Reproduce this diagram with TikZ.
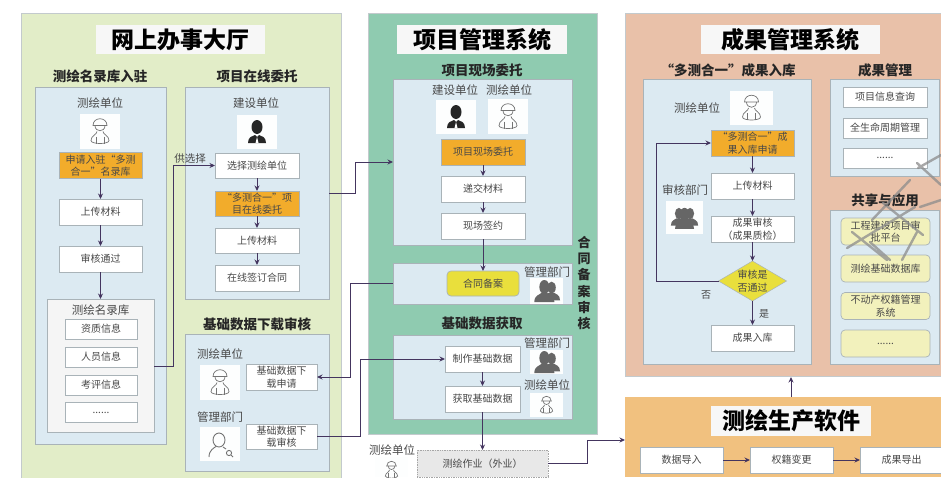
\documentclass[tikz,border=0pt]{standalone}
\usepackage{fontspec}
\setmainfont{Noto Sans CJK SC}
\usetikzlibrary{positioning}
\usetikzlibrary{calc}
\usetikzlibrary{arrows.meta}
\definecolor{hallgreen}{HTML}{E2EDC8}
\definecolor{pmgreen}{HTML}{8FCBB0}
\definecolor{resultpink}{HTML}{E9C1A9}
\definecolor{softorange}{HTML}{F1C17F}
\definecolor{paleblue}{HTML}{DCEAF2}
\definecolor{taskorange}{HTML}{F2AC2B}
\definecolor{edgegray}{HTML}{A9B3B8}
\definecolor{flowpurple}{HTML}{44355F}
\definecolor{txtgray}{HTML}{484848}
\definecolor{signyellow}{HTML}{E9DF3C}
\definecolor{appyellow}{HTML}{F2F1BC}
\tikzset{
    x=1pt,y=-1pt,>={Stealth[length=5.5pt,width=5pt]},
    base/.style={inner sep=0pt,outer sep=0pt,align=center,text=txtgray,font=\fontsize{10}{12.5}\selectfont},
    system/.style={base,draw=edgegray!70,line width=.6pt},
    panel/.style={system,fill=paleblue,draw=edgegray},
    titlebox/.style={base,fill=white!97!black,text=black,font=\fontsize{23}{26}\selectfont\bfseries,minimum height=29},
    heading/.style={base,text=black!85,font=\fontsize{13.5}{16}\selectfont\bfseries},
    actor/.style={base,font=\fontsize{11.5}{14}\selectfont},
    iconbox/.style={base,fill=white!95!paleblue},
    stepbox/.style={base,draw=edgegray,fill=white,line width=.7pt,minimum width=83,minimum height=26},
    taskbox/.style={stepbox,fill=taskorange},
    appbox/.style={stepbox,rounded corners=4pt,fill=appyellow,minimum width=89,minimum height=27},
    flow/.style={draw=flowpurple,line width=1pt,->},
    iconline/.style={draw=black!55,line width=.7pt,fill=none},
    pics/worker/.style={code={
        \draw[iconline] (-7,-6) .. controls (-7,-15) and (7,-15) .. (7,-6) -- cycle;
        \draw[iconline] (-5,-6) .. controls (-5,1) and (5,1) .. (5,-6);
        \draw[iconline] (-3,0) .. controls (-3,3) and (-9,4) .. (-9,9) .. controls (-9,13) and (9,13) .. (9,9) .. controls (9,4) and (3,3) .. (3,0);
        \draw[iconline] (-4,5) -- (-4,12) (4,5) -- (4,12);
    }},
    pics/manager/.style={code={
        \fill[black!85] (0,-5) ellipse [x radius=5.5,y radius=7];
        \fill[black!85] (-9,11) .. controls (-9,5) and (-5,4) .. (-2,3) -- (0,5) -- (2,3) .. controls (5,4) and (9,5) .. (9,11) -- cycle;
        \fill[white] (0,5) -- (-1.5,11) -- (1.5,11) -- cycle;
    }},
    pics/person/.style={code={
        \fill[black!60] (0,-4) ellipse [x radius=5,y radius=7];
        \fill[black!60] (-10,11) .. controls (-10,4) and (-5,4) .. (-3,2) -- (3,2) .. controls (5,4) and (10,4) .. (10,11) -- cycle;
    }},
    pics/pair/.style={code={
        \pic at (7,0) [scale=.85] {person};
        \pic at (-3,0) {person};
    }},
    pics/trio/.style={code={
        \pic at (-7,-1) [scale=.8] {person};
        \pic at (7,-1) [scale=.8] {person};
        \pic at (0,1) [scale=.95] {person};
    }},
    pics/searcher/.style={code={
        \draw[iconline,line width=.9pt] (-1,-4) ellipse [x radius=6,y radius=7];
        \draw[iconline,line width=.9pt] (-11,13) .. controls (-11,6) and (-6,4) .. (-4,2.5);
        \draw[iconline,line width=.9pt] (3,3) .. controls (5,4) .. (6,5);
        \draw[iconline,line width=.9pt] (9,9) circle (2.6);
        \draw[iconline,line width=.9pt] (11,11) -- (13,13);
    }}
}
\begin{document}
\begin{tikzpicture}
    \path[use as bounding box,clip] (0,0) rectangle (941,477);

    % 网上办事大厅
    \node[system,fill=hallgreen,minimum width=320,minimum height=470] (hall) at (181,248) {};
    \node[titlebox,minimum width=169] (hallTitle) at (180.5,39.5) {网上办事大厅};
    \node[heading] (joinHead) at (100,76) {测绘名录库入驻};
    \node[heading] (entrustHead) at (257,76) {项目在线委托};

    \node[panel,minimum width=131,minimum height=357] (joinPanel) at (100.5,265.5) {};
    \node[actor] (joinActor) at (100,103) {测绘单位};
    \node[iconbox,minimum width=40,minimum height=35] (joinIcon) at (100,131.5) {};
    \pic at (joinIcon) {worker};
    \node[taskbox] (joinApply) at (100.5,165.5) {申请入驻“多测\\合一”名录库};
    \node[stepbox] (joinUpload) at (100.5,212) {上传材料};
    \node[stepbox] (joinPass) at (100.5,259) {审核通过};
    \node[system,fill=black!4,draw=edgegray,minimum width=107,minimum height=133] (libPanel) at (100.5,365.5) {};
    \node[actor] (libTitle) at (100.5,310) {测绘名录库};
    \node[stepbox,minimum width=72,minimum height=20] (libCert) at (101,329) {资质信息};
    \node[stepbox,minimum width=72,minimum height=20] (libStaff) at (101,357) {人员信息};
    \node[stepbox,minimum width=72,minimum height=20] (libEval) at (101,385) {考评信息};
    \node[stepbox,minimum width=72,minimum height=20] (libMore) at (101,412.5) {......};
    \draw[flow] (joinApply) -- (joinUpload);
    \draw[flow] (joinUpload) -- (joinPass);
    \draw[flow] (joinPass) -- (libPanel);

    \node[panel,minimum width=144,minimum height=212] (entrustPanel) at (257,193) {};
    \node[actor] (entrustActor) at (256,103) {建设单位};
    \node[iconbox,minimum width=40,minimum height=34] (entrustIcon) at (257,132) {};
    \pic at (entrustIcon) {manager};
    \node[stepbox,minimum width=84,minimum height=25] (entrustPick) at (257,165.5) {选择测绘单位};
    \node[taskbox,minimum width=84,minimum height=25] (entrustTask) at (257,203.5) {“多测合一”项\\目在线委托};
    \node[stepbox,minimum width=84,minimum height=25] (entrustUpload) at (257,240.5) {上传材料};
    \node[stepbox,minimum width=84,minimum height=26] (entrustSign) at (257,278) {在线签订合同};
    \draw[flow] (entrustPick) -- (entrustTask);
    \draw[flow] (entrustTask) -- (entrustUpload);
    \draw[flow] (entrustUpload) -- (entrustSign);

    \node[heading] (downHead) at (257,324) {基础数据下载审核};
    \node[panel,minimum width=144,minimum height=137] (downPanel) at (257,402.5) {};
    \node[actor] (downActorA) at (220,354) {测绘单位};
    \node[iconbox,minimum width=40,minimum height=35] (downIconA) at (220,382.5) {};
    \pic at (downIconA) {worker};
    \node[stepbox,minimum width=71,minimum height=26] (downApply) at (281.5,377) {基础数据下\\载申请};
    \node[actor] (downActorB) at (220,417) {管理部门};
    \node[iconbox,minimum width=40,minimum height=34] (downIconB) at (220,444) {};
    \pic at (downIconB) {searcher};
    \node[stepbox,minimum width=71,minimum height=25] (downCheck) at (281.5,436.5) {基础数据下\\载审核};

    % 项目管理系统
    \node[system,fill=pmgreen,minimum width=229,minimum height=421] (pms) at (482.5,223.5) {};
    \node[titlebox,minimum width=170] (pmsTitle) at (482,39.5) {项目管理系统};
    \node[heading] (siteHead) at (482,70) {项目现场委托};
    \node[panel,minimum width=179,minimum height=166] (sitePanel) at (482.5,162) {};
    \node[actor] (siteActorA) at (455,90) {建设单位};
    \node[actor] (siteActorB) at (509,90) {测绘单位};
    \node[iconbox,minimum width=40,minimum height=34] (siteIconA) at (456,117) {};
    \pic at (siteIconA) {manager};
    \node[iconbox,minimum width=40,minimum height=35] (siteIconB) at (508,116.5) {};
    \pic at (siteIconB) {worker};
    \node[taskbox,minimum width=84] (siteTask) at (483,152) {项目现场委托};
    \node[stepbox,minimum width=84] (siteSubmit) at (483,189) {递交材料};
    \node[stepbox,minimum width=84] (siteSign) at (483,226) {现场签约};
    \draw[flow] (siteTask) -- (siteSubmit);
    \draw[flow] (siteSubmit) -- (siteSign);

    \node[panel,minimum width=179,minimum height=41] (recordPanel) at (482.5,283.5) {};
    \node[stepbox,rounded corners=4pt,fill=signyellow,minimum width=72,minimum height=25] (recordBox) at (483,283.5) {合同备案};
    \node[actor] (recordActor) at (547,272) {管理部门};
    \node[iconbox,minimum width=33,minimum height=26] (recordIcon) at (546.5,291) {};
    \pic at (recordIcon) [scale=.72] {pair};
    \draw[flow] (siteSign) -- (recordBox);
    \node[heading,font=\fontsize{13}{16.2}\selectfont\bfseries] (recordSide) at (584,283) {合\\同\\备\\案\\审\\核};

    \node[heading] (dataHead) at (482,323) {基础数据获取};
    \node[panel,minimum width=179,minimum height=84] (dataPanel) at (482.5,377) {};
    \node[stepbox,minimum width=75] (dataMake) at (482.5,359) {制作基础数据};
    \node[stepbox,minimum width=75] (dataGet) at (482.5,399) {获取基础数据};
    \node[actor] (dataActorA) at (547,343) {管理部门};
    \node[iconbox,minimum width=33,minimum height=24] (dataIconA) at (546.5,362) {};
    \pic at (dataIconA) [scale=.72] {pair};
    \node[actor] (dataActorB) at (547,385) {测绘单位};
    \node[iconbox,minimum width=33,minimum height=24] (dataIconB) at (546.5,405) {};
    \pic at (dataIconB) [scale=.68] {worker};
    \draw[flow] (dataMake) -- (dataGet);

    \node[base,draw=black!35,densely dotted,fill=black!9,line width=.7pt,minimum width=131,minimum height=27] (fieldWork) at (482.5,463.5) {测绘作业（外业）};
    \node[actor] (fieldActor) at (392,450) {测绘单位};
    \node[iconbox,minimum width=33,minimum height=20] (fieldIcon) at (391.5,467) {};
    \pic at ($(fieldIcon)+(0,3)$) [scale=.68] {worker};
    \draw[flow] (dataGet) -- (fieldWork);

    % 成果管理系统
    \node[system,fill=resultpink,minimum width=316,minimum height=363] (rms) at (783,194.5) {};
    \node[titlebox,minimum width=179] (rmsTitle) at (790.5,39.5) {成果管理系统};
    \node[heading] (inHead) at (728,70) {“多测合一”成果入库};
    \node[panel,minimum width=168,minimum height=285] (inPanel) at (727,221.5) {};
    \node[actor] (inActor) at (697,108) {测绘单位};
    \node[iconbox,minimum width=43,minimum height=34] (inIcon) at (751.5,108) {};
    \pic at (inIcon) {worker};
    \node[taskbox] (inApply) at (752.5,143) {“多测合一”成\\果入库申请};
    \node[stepbox] (inUpload) at (752.5,186) {上传材料};
    \node[stepbox] (inCheck) at (752.5,229) {成果审核\\（成果质检）};
    \node[actor] (inActorB) at (685,190) {审核部门};
    \node[iconbox,minimum width=37,minimum height=33] (inIconB) at (684.5,217.5) {};
    \pic at (inIconB) [scale=.8] {trio};
    \path (752.5,261) coordinate (tipN) (786.5,281) coordinate (tipE) (752.5,301) coordinate (tipS) (718.5,281) coordinate (tipW);
    \draw[fill=signyellow,draw=edgegray,line width=.5pt] (tipN) -- (tipE) -- (tipS) -- (tipW) -- cycle;
    \node[base] (inPassed) at (752.5,281) {审核是\\否通过};
    \node[stepbox] (inStore) at (752.5,338) {成果入库};
    \node[base] (noLabel) at (706,295) {否};
    \node[base] (yesLabel) at (764,314) {是};
    \draw[flow] (inApply) -- (inUpload);
    \draw[flow] (inUpload) -- (inCheck);
    \draw[flow] (inCheck) -- (tipN);
    \draw[flow] (tipS) -- (inStore);
    \coordinate (backTurn) at (656,281);
    \draw[flow] (tipW) -- (backTurn) |- (inApply);

    \node[heading] (manageHead) at (885,70) {成果管理};
    \node[panel,minimum width=109,minimum height=97] (managePanel) at (884.5,127.5) {};
    \node[stepbox,minimum width=84,minimum height=20] (manageQuery) at (885,97) {项目信息查询};
    \node[stepbox,minimum width=84,minimum height=20] (manageLife) at (885,128) {全生命周期管理};
    \node[stepbox,minimum width=84,minimum height=20] (manageMore) at (885,158) {......};

    \node[heading] (shareHead) at (885,200) {共享与应用};
    \node[panel,minimum width=109,minimum height=154] (sharePanel) at (884.5,287) {};
    \node[appbox] (shareApprove) at (885.5,231.5) {工程建设项目审\\批平台};
    \node[appbox] (shareBase) at (885.5,268.5) {测绘基础数据库};
    \node[appbox] (shareEstate) at (885.5,306) {不动产权籍管理\\系统};
    \node[appbox] (shareMore) at (885.5,343.5) {......};

    % 测绘生产软件
    \node[system,fill=softorange,draw=none,minimum width=316,minimum height=80] (soft) at (783,437) {};
    \node[titlebox,minimum width=160,minimum height=30] (softTitle) at (791,421) {测绘生产软件};
    \node[stepbox] (softIn) at (681.5,460) {数据导入};
    \node[stepbox] (softChange) at (791.5,460) {权籍变更};
    \node[stepbox] (softOut) at (901.5,460) {成果导出};
    \draw[flow] (softIn) -- (softChange);
    \draw[flow] (softChange) -- (softOut);
    \coordinate (softTop) at (791,397);
    \coordinate (rmsBottom) at (791,377);
    \draw[flow] (softTop) -- (rmsBottom);

    % 系统之间
    \coordinate (supplyTurn) at (173,366);
    \draw[flow] (libPanel.east |- supplyTurn) -- (supplyTurn) |- (entrustPick);
    \node[base,font=\fontsize{10.5}{13}\selectfont] (supplyLabel) at (190,159) {供选择};
    \coordinate (pmsTurn) at (355,193);
    \coordinate (siteEntry) at (393,162);
    \draw[flow] (entrustPanel.east |- pmsTurn) -- (pmsTurn) |- (siteEntry);
    \coordinate (recordTurn) at (350,283.5);
    \draw[flow] (recordPanel) -- (recordTurn) |- (downApply);
    \coordinate (dataTurn) at (360,436.5);
    \draw[flow] (downCheck) -- (dataTurn) |- (dataMake);
    \coordinate (softTurn) at (587,463.5);
    \coordinate (softEntry) at (625,440);
    \draw[flow] (fieldWork) -- (softTurn) |- (softEntry);

    % 水印
    \draw[black!45,opacity=.75,line width=2.4pt,line cap=round]
        (917,163) -- (941,185) (941,155) -- (918,168) (872,220) -- (910,180)
        (920,207) -- (941,200) (883,203) -- (923,235) (847,248) -- (915,207)
        (852,232) -- (887,260) (870,242) -- (890,260) (917,232) -- (902,260);
\end{tikzpicture}
\end{document}
